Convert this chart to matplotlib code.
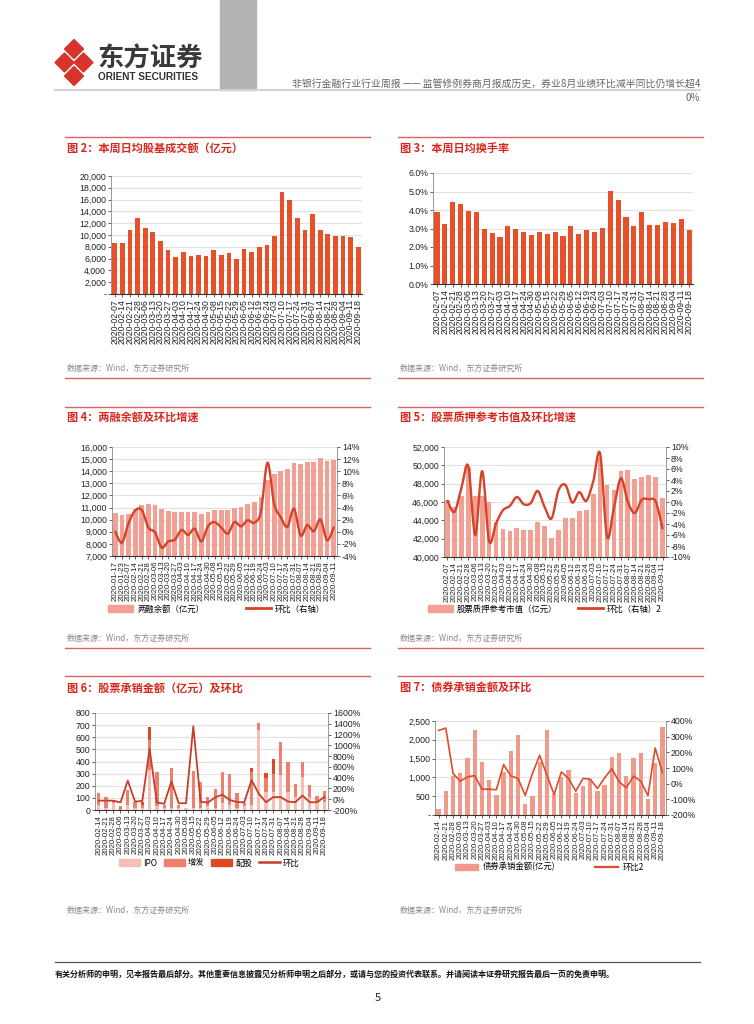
import numpy as np
import matplotlib
matplotlib.use("Agg")
import matplotlib.pyplot as plt
from matplotlib.path import Path
from matplotlib.patches import PathPatch, Patch, RegularPolygon
from matplotlib.lines import Line2D
from matplotlib.ticker import FuncFormatter

plt.rcParams["font.family"] = ["Noto Sans CJK SC", "DejaVu Sans"]
plt.rcParams["axes.unicode_minus"] = False

W, H = 754, 1024

# ---- data ----
weeks = ["2020-02-07", "2020-02-14", "2020-02-21", "2020-02-28", "2020-03-06", "2020-03-13",
         "2020-03-20", "2020-03-27", "2020-04-03", "2020-04-10", "2020-04-17", "2020-04-24",
         "2020-04-30", "2020-05-08", "2020-05-15", "2020-05-22", "2020-05-29", "2020-06-05",
         "2020-06-12", "2020-06-19", "2020-06-24", "2020-07-03", "2020-07-10", "2020-07-17",
         "2020-07-24", "2020-07-31", "2020-08-07", "2020-08-14", "2020-08-21", "2020-08-28",
         "2020-09-04", "2020-09-11", "2020-09-18"]

# fig 2: daily average turnover (100m yuan)
turnover = [8700, 8650, 10900, 12900, 11250, 10450, 8900, 7400, 6300, 7200, 6500, 6650,
            6500, 7500, 6550, 7000, 5950, 7600, 7100, 7950, 8250, 9850, 17330, 15900,
            12900, 10900, 13500, 10800, 10230, 9770, 9770, 9600, 8010]

# fig 3: daily average turnover rate (%)
turn_rate = [3.90, 3.23, 4.44, 4.31, 3.92, 3.90, 2.97, 2.77, 2.56, 3.15, 2.97, 2.83,
             2.67, 2.83, 2.70, 2.83, 2.58, 3.12, 2.70, 2.91, 2.79, 3.02, 5.04, 4.53,
             3.62, 3.15, 3.87, 3.20, 3.20, 3.33, 3.30, 3.53, 2.94]

# fig 4: margin balance and wow change
margin_dates = ["2020-01-17", "2020-01-23"] + weeks[:-1]
margin_bal = [10570, 10360, 10500, 10880, 11200, 11270, 11200, 10900, 10750, 10600, 10630,
              10600, 10650, 10450, 10600, 10780, 10830, 10780, 10950, 11080, 11270, 11450,
              11900, 13270, 13800, 14030, 14200, 14700, 14600, 14800, 14800, 15100, 14850, 14950]
margin_chg = [0.0, -1.8, 1.4, 3.5, 3.6, 0.7, -0.1, -2.6, -1.6, -1.3, 0.3, -0.5, 0.5, -1.6,
              0.9, 1.6, 0.7, -0.3, 1.6, 0.9, 1.9, 1.5, 3.3, 11.4, 4.6, 2.4, 0.8, 3.8, -0.6,
              1.1, 0.1, 2.0, -1.4, 0.7]

# fig 5: pledged stock market value and wow change
pledge_dates = weeks[:-1]
pledge_val = [46250, 45400, 46600, 49800, 46600, 46700, 46000, 43800, 43100, 42850, 43200,
              43000, 42900, 43800, 43400, 42100, 43000, 44300, 44250, 45000, 45100, 46900,
              50900, 47900, 47300, 49400, 49450, 48500, 48700, 48900, 48750, 46400]
pledge_chg = [0.2, -1.8, 2.5, 6.5, -6.0, 5.6, -7.1, -3.9, -1.5, -0.7, 0.9, -0.4, -0.2, 2.0,
              -0.9, -3.0, 2.1, 3.1, -0.1, 1.8, 0.2, 3.7, 8.8, -6.3, -1.0, 4.3, 0.0, -2.0,
              0.4, 0.5, 0.1, -4.8]

# fig 6: equity underwriting (100m yuan) and wow change
uw_dates = weeks[1:]
ipo = [40, 20, 60, 0, 40, 20, 20, 330, 30, 20, 20, 15, 14, 20, 15, 30, 20, 60, 40, 20, 35,
       40, 660, 150, 150, 290, 150, 110, 270, 110, 60, 70]
seo = [97, 90, 20, 33, 125, 50, 24, 250, 286, 25, 329, 30, 0, 305, 218, 75, 150, 250, 254,
       117, 20, 270, 60, 118, 145, 267, 250, 102, 122, 97, 58, 87]
rights = [0, 0, 0, 0, 0, 0, 25, 107, 0, 0, 0, 0, 0, 0, 0, 0, 0, 0, 0, 0, 0, 40, 0, 40, 125,
          0, 0, 0, 0, 0, 0, 0]
eq_chg = [-27, -27, -27, -60, 345, -45, -30, 935, -60, -85, 330, -75, -75, 1355, -45, -64,
          35, 85, -15, -52, -58, 355, 100, -56, 40, 40, -43, -56, 68, -56, -56, 43]

# fig 7: bond underwriting (100m yuan) and wow change
bond_val = [150, 645, 1030, 1130, 1510, 2250, 1400, 920, 540, 1150, 1690, 2130, 290, 510,
            1420, 2270, 550, 1000, 1210, 590, 770, 970, 640, 810, 1530, 1650, 1050, 1520,
            1660, 420, 1370, 2330]
bond_chg = [340, 355, 65, 16, 43, 52, -35, -35, -39, 122, 50, 33, -75, 65, 181, 54, -69, 75,
            33, -48, 33, 29, -31, 37, 96, 12, -26, 48, 16, -77, 228, 71]

RED = "#D9261C"
RULE = "#E26060"
BAR = "#E8502A"
PINK = "#F2A093"
LINE = "#D5432A"
NUMF = ["Liberation Sans", "DejaVu Sans"]

fig = plt.figure(figsize=(W / 100, H / 100), dpi=100)


def box(x0, y0, x1, y1):
    return [x0 / W, 1 - y1 / H, (x1 - x0) / W, (y1 - y0) / H]


def hline(x0, x1, y, color, lw):
    fig.add_artist(Line2D([x0 / W, x1 / W], [1 - y / H, 1 - y / H], color=color, lw=lw))


def ftext(x, y, s, **kw):
    fig.text(x / W, 1 - y / H, s, **kw)


def smooth(ax, xs, ys, color, lw):
    # Catmull-Rom curve through the points, drawn as bezier path
    pts = np.column_stack([xs, ys]).astype(float)
    verts = [pts[0]]
    codes = [Path.MOVETO]
    for i in range(len(pts) - 1):
        p0 = pts[i - 1] if i > 0 else pts[i]
        p1, p2 = pts[i], pts[i + 1]
        p3 = pts[i + 2] if i + 2 < len(pts) else p2
        verts += [p1 + (p2 - p0) / 6, p2 - (p3 - p1) / 6, p2]
        codes += [Path.CURVE4] * 3
    ax.add_patch(PathPatch(Path(verts, codes), fill=False, ec=color, lw=lw, capstyle="round"))


def numfont(ax):
    for t in ax.get_xticklabels() + ax.get_yticklabels():
        t.set_family(NUMF)


def base_axes(rect, labels, xfs=6):
    ax = fig.add_axes(box(*rect))
    for s in ["top", "right"]:
        ax.spines[s].set_visible(False)
    ax.spines["left"].set_color("#888888")
    ax.spines["left"].set_linewidth(0.6)
    ax.spines["bottom"].set_color("#333333")
    ax.spines["bottom"].set_linewidth(0.8)
    ax.grid(axis="y", color="#E2E2E2", lw=0.8)
    ax.set_axisbelow(True)
    ax.set_xticks(range(len(labels)))
    ax.set_xticklabels(labels, rotation=90, fontsize=xfs, color="#222222")
    ax.set_xlim(-0.5, len(labels) - 0.5)
    ax.tick_params(axis="y", labelsize=6.3, length=2, width=0.5, pad=1.5, colors="#222222")
    ax.tick_params(axis="x", length=2, width=0.5, pad=1.5, colors="#222222")
    return ax


def right_axis(ax, lim, step, fmt):
    ax2 = ax.twinx()
    for s in ["top", "left", "bottom"]:
        ax2.spines[s].set_visible(False)
    ax2.spines["right"].set_color("#888888")
    ax2.spines["right"].set_linewidth(0.6)
    ax2.set_ylim(*lim)
    ax2.set_yticks(np.arange(lim[0], lim[1] + step / 2, step))
    ax2.yaxis.set_major_formatter(FuncFormatter(fmt))
    ax2.tick_params(axis="y", labelsize=6.3, length=2, width=0.5, pad=1.5, colors="#222222")
    return ax2


comma = FuncFormatter(lambda v, p: "-" if v == 0 else f"{v:,.0f}")
comma0 = FuncFormatter(lambda v, p: f"{v:,.0f}")

# ---- header ----
fig.add_artist(plt.Rectangle((220 / W, 1 - 90 / H), 36 / W, 90 / H, color="#B4B4B4",
                             transform=fig.transFigure))
hline(55, 700, 90, "#D4D4D4", 1.5)
lg = fig.add_axes(box(52, 39, 96, 86))
lg.set_xlim(0, 44)
lg.set_ylim(47, 0)
lg.axis("off")
for cx, cy in [(22, 10), (12.5, 23.5), (31.5, 23.5), (22, 37)]:
    lg.add_patch(RegularPolygon((cx, cy), 4, radius=9.5, orientation=0, color="#D8342B"))
ftext(97, 59, "东方证券", fontsize=19, fontweight="bold", color="#3A3A3A", va="center")
ftext(98, 77, "ORIENT SECURITIES", fontsize=7.2, fontweight="bold", color="#333333",
      va="center", family=NUMF)
ftext(700, 84, "非银行金融行业行业周报 —— 监管修例券商月报成历史，券业8月业绩环比减半同比仍增长超4",
      fontsize=7.1, color="#666666", ha="right", va="center")
ftext(700, 98, "0%", fontsize=7.1, color="#666666", ha="right", va="center")

# ---- panel frames ----
src = "数据来源：Wind，东方证券研究所"
for (x0, x1) in [(65, 370), (398, 703)]:
    for ytop, ybot in [(137, 378), (407, 648)]:
        hline(x0, x1, ytop, RULE, 1.0)
        hline(x0, x1, ybot, RULE, 1.0)
        ftext(x0 + 2, ybot - 10, src, fontsize=5.8, color="#8A8A8A", va="center")
    hline(x0, x1, 676, RULE, 1.0)
    ftext(x0 + 2, 910, src, fontsize=5.8, color="#8A8A8A", va="center")

titles = [(67, 148, "图 2：本周日均股基成交额（亿元）"), (400, 148, "图 3：本周日均换手率"),
          (67, 418, "图 4：两融余额及环比增速"), (400, 418, "图 5：股票质押参考市值及环比增速"),
          (67, 688, "图 6：股票承销金额（亿元）及环比"), (400, 688, "图 7：债券承销金额及环比")]
for x, y, t in titles:
    ftext(x, y, t, fontsize=8, fontweight="bold", color=RED, va="center")

# ---- fig 2 ----
ax = base_axes((111, 176, 362, 294), weeks, 6.3)
ax.bar(range(len(turnover)), turnover, width=0.62, color=BAR)
ax.set_ylim(0, 20000)
ax.set_yticks(np.arange(0, 20001, 2000))
ax.yaxis.set_major_formatter(comma)
numfont(ax)

# ---- fig 3 ----
ax = base_axes((433, 173, 693, 284), weeks, 6.3)
ax.bar(range(len(turn_rate)), turn_rate, width=0.65, color=BAR)
ax.set_ylim(0, 6)
ax.set_yticks(np.arange(0, 6.01, 1))
ax.yaxis.set_major_formatter(FuncFormatter(lambda v, p: f"{v:.1f}%"))
numfont(ax)

# ---- fig 4 ----
ax = base_axes((112, 447, 337, 556), margin_dates, 5.6)
ax.bar(range(len(margin_bal)), margin_bal, width=0.72, color=PINK)
ax.set_ylim(7000, 16000)
ax.set_yticks(np.arange(7000, 16001, 1000))
ax.yaxis.set_major_formatter(comma0)
ax2 = right_axis(ax, (-4, 14), 2, lambda v, p: f"{v:.0f}%")
smooth(ax2, np.arange(len(margin_chg)), margin_chg, LINE, 1.7)
numfont(ax)
numfont(ax2)
fig.legend([Patch(color=PINK), Line2D([], [], color=LINE, lw=2)], ["两融余额（亿元）", "环比（右轴）"],
           loc="center left", bbox_to_anchor=(108 / W, 1 - 609 / H), ncol=2, frameon=False,
           fontsize=6, handlelength=3, handleheight=0.8, handletextpad=0.5, columnspacing=5,
           borderaxespad=0, borderpad=0)

# ---- fig 5 ----
ax = base_axes((444, 447, 666, 557), pledge_dates, 5.6)
ax.bar(range(len(pledge_val)), pledge_val, width=0.68, color=PINK)
ax.set_ylim(40000, 52000)
ax.set_yticks(np.arange(40000, 52001, 2000))
ax.yaxis.set_major_formatter(comma0)
ax2 = right_axis(ax, (-10, 10), 2, lambda v, p: f"{v:.0f}%")
smooth(ax2, np.arange(len(pledge_chg)), pledge_chg, LINE, 1.7)
numfont(ax)
numfont(ax2)
fig.legend([Patch(color=PINK), Line2D([], [], color=LINE, lw=2)],
           ["股票质押参考市值（亿元）", "环比（右轴）2"],
           loc="center left", bbox_to_anchor=(428 / W, 1 - 609 / H), ncol=2, frameon=False,
           fontsize=6, handlelength=3, handleheight=0.8, handletextpad=0.5, columnspacing=2.4,
           borderaxespad=0, borderpad=0)

# ---- fig 6 ----
C_IPO, C_SEO, C_RI, C_L6 = "#F6BFB6", "#EE806E", "#DC4A24", "#C63E28"
ax = base_axes((95, 713, 328, 810), uw_dates, 5.6)
x6 = np.arange(len(ipo))
ax.bar(x6, ipo, width=0.45, color=C_IPO)
ax.bar(x6, seo, width=0.45, bottom=ipo, color=C_SEO)
ax.bar(x6, rights, width=0.45, bottom=np.add(ipo, seo), color=C_RI)
ax.set_ylim(0, 800)
ax.set_yticks(np.arange(0, 801, 100))
ax2 = right_axis(ax, (-200, 1600), 200, lambda v, p: f"{v:.0f}%")
ax2.plot(x6, eq_chg, color=C_L6, lw=1.3)
numfont(ax)
numfont(ax2)
fig.legend([Patch(color=C_IPO), Patch(color=C_SEO), Patch(color=C_RI),
            Line2D([], [], color=C_L6, lw=1.8)], ["IPO", "增发", "配股", "环比"],
           loc="center left", bbox_to_anchor=(119 / W, 1 - 863 / H), ncol=4, frameon=False,
           fontsize=6, handlelength=2.5, handleheight=0.8, handletextpad=0.4, columnspacing=0.8,
           borderaxespad=0, borderpad=0)

# ---- fig 7 ----
C_B7, C_L7 = "#F09A8C", "#DE4C2C"
ax = base_axes((435, 721, 666, 815), uw_dates, 5.6)
x7 = np.arange(len(bond_val))
ax.bar(x7, bond_val, width=0.6, color=C_B7)
ax.set_ylim(0, 2500)
ax.set_yticks(np.arange(0, 2501, 500))
ax.yaxis.set_major_formatter(comma)
ax2 = right_axis(ax, (-200, 400), 100, lambda v, p: f"{v:.0f}%")
ax2.plot(x7, bond_chg, color=C_L7, lw=1.2)
numfont(ax)
numfont(ax2)
fig.legend([Patch(color=C_B7), Line2D([], [], color=C_L7, lw=1.6)], ["债券承销金额(亿元)", "环比2"],
           loc="center left", bbox_to_anchor=(455 / W, 1 - 867 / H), ncol=2, frameon=False,
           fontsize=6, handlelength=2.8, handleheight=0.8, handletextpad=0.5, columnspacing=4.8,
           borderaxespad=0, borderpad=0)

# ---- footer ----
hline(55, 700, 962, "#555555", 0.9)
ftext(55, 974, "有关分析师的申明，见本报告最后部分。其他重要信息披露见分析师申明之后部分，或请与您的投资代表联系。"
      "并请阅读本证券研究报告最后一页的免责申明。", fontsize=5.8, fontweight="bold", color="#111111",
      va="center")
ftext(378, 998, "5", fontsize=8, color="#222222", ha="center", va="center")

fig.savefig("out.png", dpi=100)
